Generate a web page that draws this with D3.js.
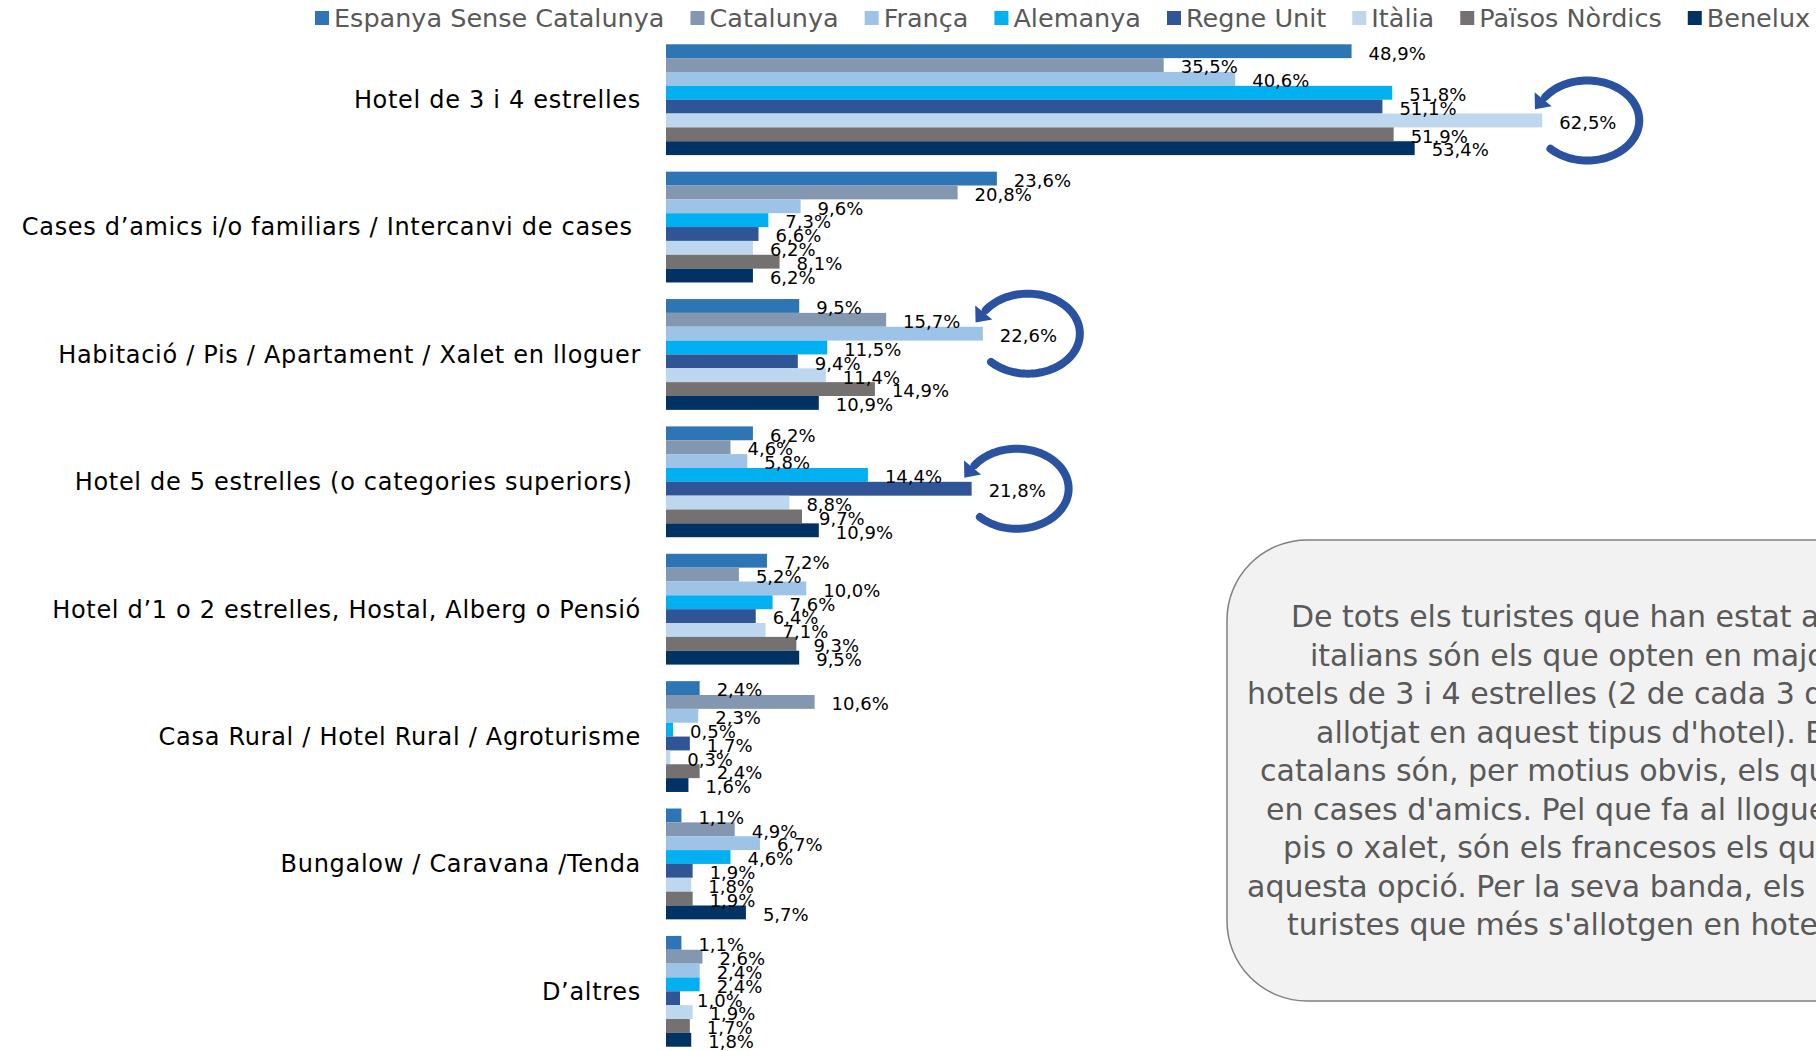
<!DOCTYPE html>
<html>
<head>
<meta charset="utf-8">
<script src="https://cdn.jsdelivr.net/npm/d3@7"></script>
<style>
  body { margin: 0; background: #fff; }
  text { font-family: "DejaVu Sans", sans-serif; }
</style>
</head>
<body>
<div id="chart"></div>
<script>
var categories = [
  "Hotel de 3 i 4 estrelles",
  "Cases d’amics i/o familiars / Intercanvi de cases ",
  "Habitació / Pis / Apartament / Xalet en lloguer",
  "Hotel de 5 estrelles (o categories superiors) ",
  "Hotel d’1 o 2 estrelles, Hostal, Alberg o Pensió",
  "Casa Rural / Hotel Rural / Agroturisme",
  "Bungalow / Caravana /Tenda",
  "D’altres"
];

var seriesNames = ["Espanya Sense Catalunya", "Catalunya", "França", "Alemanya",
  "Regne Unit", "Itàlia", "Països Nòrdics", "Benelux"];

var espanya   = [48.9, 23.6, 9.5, 6.2, 7.2, 2.4, 1.1, 1.1];
var catalunya = [35.5, 20.8, 15.7, 4.6, 5.2, 10.6, 4.9, 2.6];
var franca    = [40.6, 9.6, 22.6, 5.8, 10.0, 2.3, 6.7, 2.4];
var alemanya  = [51.8, 7.3, 11.5, 14.4, 7.6, 0.5, 4.6, 2.4];
var regneUnit = [51.1, 6.6, 9.4, 21.8, 6.4, 1.7, 1.9, 1.0];
var italia    = [62.5, 6.2, 11.4, 8.8, 7.1, 0.3, 1.8, 1.9];
var nordics   = [51.9, 8.1, 14.9, 9.7, 9.3, 2.4, 1.9, 1.7];
var benelux   = [53.4, 6.2, 10.9, 10.9, 9.5, 1.6, 5.7, 1.8];

var seriesValues = [espanya, catalunya, franca, alemanya, regneUnit, italia, nordics, benelux];
var colors = ["#2E75B6", "#8497B0", "#9DC3E6", "#00B0F0", "#2F5597", "#BDD7EE", "#767171", "#003264"];

// circled highlights: [category index, series index]
var highlights = [[0, 5], [2, 2], [3, 4]];

var noteLines = [
  "De tots els turistes que han estat a Catalunya, els",
  "italians són els que opten en major mesura pels",
  "hotels de 3 i 4 estrelles (2 de cada 3 d'ells s'han",
  "allotjat en aquest tipus d'hotel). Els espanyols i",
  "catalans són, per motius obvis, els que més s'allotgen",
  "en cases d'amics. Pel que fa al lloguer d'habitació,",
  "pis o xalet, són els francesos els que més trien",
  "aquesta opció. Per la seva banda, els britànics són els",
  "turistes que més s'allotgen en hotels de 5 estrelles."
];
// left indent of each centred line inside the box
var noteIndent = [64, 83, 20, 89, 33, 39, 56, 20, 60];

var width = 1816, height = 1051;

var svg = d3.select("#chart").append("svg")
  .attr("width", width)
  .attr("height", height);

var data = [];
categories.forEach(function (c, i) {
  seriesNames.forEach(function (s, j) {
    data.push({ cat: c, ci: i, series: s, si: j, value: seriesValues[j][i] });
  });
});

var x = d3.scaleLinear().domain([0, 100]).range([666, 2068]);
var y = d3.scaleBand().domain(categories).range([36, 1055])
  .paddingInner(0.13).paddingOuter(0.065);
var inner = d3.scaleBand().domain(seriesNames).range([0, y.bandwidth()]);
var color = d3.scaleOrdinal().domain(seriesNames).range(colors);

// category labels
svg.append("g")
  .selectAll("text")
  .data(categories)
  .enter()
  .append("text")
  .attr("x", 641)
  .attr("y", d => y(d) + y.bandwidth() / 2)
  .attr("dy", "0.35em")
  .attr("text-anchor", "end")
  .style("white-space", "pre")
  .style("font-size", "24px")
  .style("letter-spacing", "0.7px")
  .attr("fill", "#000")
  .text(d => d);

// note box
var note = svg.append("g");
note.append("rect")
  .attr("x", 1227).attr("y", 540)
  .attr("width", 960).attr("height", 461)
  .attr("rx", 80).attr("ry", 80)
  .attr("fill", "#F2F2F2")
  .attr("stroke", "#808080")
  .attr("stroke-width", 1.5);
note.selectAll("text")
  .data(noteLines)
  .enter()
  .append("text")
  .attr("x", (d, i) => 1227 + noteIndent[i])
  .attr("y", (d, i) => 627 + i * 38.5)
  .style("font-size", "30px")
  .attr("fill", "#595959")
  .text(d => d);

// bars
svg.append("g")
  .selectAll("rect")
  .data(data)
  .enter()
  .append("rect")
  .attr("x", x(0))
  .attr("y", d => y(d.cat) + inner(d.series))
  .attr("width", d => x(d.value) - x(0))
  .attr("height", inner.bandwidth())
  .attr("fill", d => color(d.series));

// highlight circles
var arc = svg.append("g");
highlights.forEach(function (h) {
  var v = seriesValues[h[1]][h[0]];
  var cx = x(v) + 45;
  var cy = y(categories[h[0]]) + inner(seriesNames[h[1]]) + inner.bandwidth() / 2;
  var rx = 52, ry = 40;
  var pts = d3.range(135, -146, -3).map(function (a) {
    var t = a * Math.PI / 180;
    return [cx + rx * Math.cos(t), cy + ry * Math.sin(t)];
  });
  arc.append("path")
    .attr("d", d3.line()(pts))
    .attr("fill", "none")
    .attr("stroke", "#2A52A0")
    .attr("stroke-width", 8)
    .attr("stroke-linecap", "round");
  var t = -148 * Math.PI / 180;
  var px = cx + rx * Math.cos(t), py = cy + ry * Math.sin(t);
  var dx = rx * Math.sin(t), dy = -ry * Math.cos(t);
  var len = Math.sqrt(dx * dx + dy * dy);
  dx /= len; dy /= len;
  var nx = -dy, ny = dx;
  arc.append("path")
    .attr("d", "M" + (px + dx * 13) + "," + (py + dy * 13) +
      "L" + (px + nx * 11) + "," + (py + ny * 11) +
      "L" + (px - nx * 11) + "," + (py - ny * 11) + "Z")
    .attr("fill", "#2A52A0");
});

// value labels
svg.append("g")
  .selectAll("text")
  .data(data)
  .enter()
  .append("text")
  .attr("x", d => x(d.value) + 17)
  .attr("y", d => y(d.cat) + inner(d.series) + inner.bandwidth() / 2 + 2)
  .attr("dy", "0.35em")
  .style("font-size", "18px")
  .attr("fill", "#000")
  .text(d => d3.format(".1f")(d.value).replace(".", ",") + "%");

// legend
var legend = svg.append("g").attr("transform", "translate(315, 0)");
var lx = 0;
seriesNames.forEach(function (s) {
  legend.append("rect")
    .attr("x", lx).attr("y", 11)
    .attr("width", 14).attr("height", 14)
    .attr("fill", color(s));
  var t = legend.append("text")
    .attr("x", lx + 19).attr("y", 18)
    .attr("dy", "0.35em")
    .style("font-size", "25.5px")
    .attr("fill", "#595959")
    .text(s);
  lx += 19 + t.node().getComputedTextLength() + 26;
});
</script>
</body>
</html>
